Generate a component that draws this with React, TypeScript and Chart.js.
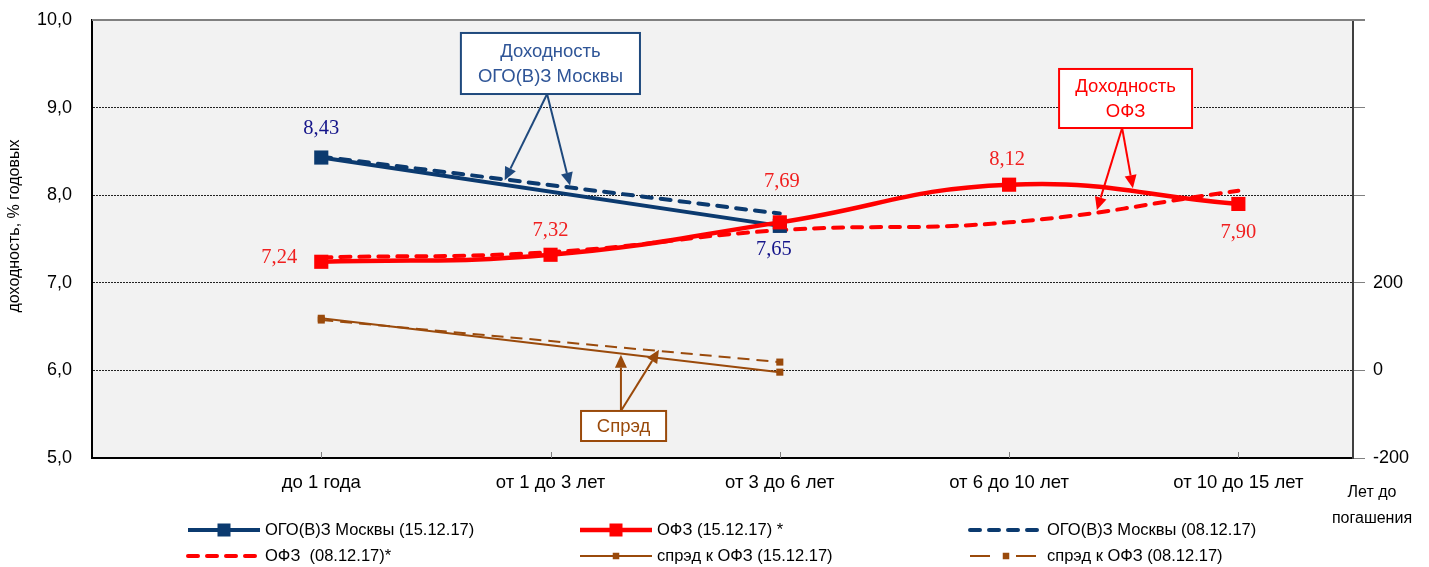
import React, { useEffect, useRef } from "react";
import { Chart, registerables } from "chart.js";
Chart.register(...registerables);

const SANS = "'Liberation Sans', Arial, sans-serif";
const SERIF = "'Liberation Serif', 'Times New Roman', serif";

// ---- data ----
const categories = ["до 1 года", "от 1 до 3 лет", "от 3 до 6 лет", "от 6 до 10 лет", "от 10 до 15 лет"];
const ogoMoscow1512: (number | null)[] = [8.43, null, 7.65, null, null];
const ofz1512: (number | null)[] = [7.24, 7.32, 7.69, 8.12, 7.9];
const ogoMoscow0812: (number | null)[] = [8.44, null, 7.79, null, null];
const ofz0812: (number | null)[] = [7.29, 7.35, 7.6, 7.69, 8.05];
const spread1512: (number | null)[] = [119, null, -4, null, null];
const spread0812: (number | null)[] = [115, null, 19, null, null];
const yieldRange = [5, 10];
const spreadRange = [-200, 800];
const spreadLabelMax = 200;
const seriesLabels = [
  "ОГО(В)З Москвы (15.12.17)",
  "ОФЗ (15.12.17) *",
  "ОГО(В)З Москвы (08.12.17)",
  "ОФЗ  (08.12.17)*",
  "спрэд к ОФЗ (15.12.17)",
  "спрэд к ОФЗ (08.12.17)",
];
const leftAxisTitle = "доходность, % годовых";
const xAxisTitle = ["Лет до", "погашения"];

// ---- styles ----
const NAVY = "#0B3A6F";
const RED = "#FF0000";
const BROWN = "#9A4A0B";
const NAVY_LABEL = "#15158A";
const RED_LABEL = "#F02020";

const seriesValues = [ogoMoscow1512, ofz1512, ogoMoscow0812, ofz0812, spread1512, spread0812];

const toPoints = (arr: (number | null)[]) =>
  arr.map((v, i) => (v == null ? null : { x: i + 1, y: v })).filter((p) => p !== null) as { x: number; y: number }[];

const fmt = (v: number, d: number) => v.toFixed(d).replace(".", ",");

// value labels: dataset index, point index, offsets
const valueLabels = [
  { ds: 0, i: 0, dx: 0, dy: -29, color: NAVY_LABEL },
  { ds: 0, i: 2, dx: -6, dy: 24, color: NAVY_LABEL },
  { ds: 1, i: 0, dx: -42, dy: -4, color: RED_LABEL },
  { ds: 1, i: 1, dx: 0, dy: -24, color: RED_LABEL },
  { ds: 1, i: 2, dx: 2, dy: -41, color: RED_LABEL },
  { ds: 1, i: 3, dx: -2, dy: -25, color: RED_LABEL },
  { ds: 1, i: 4, dx: 0, dy: 29, color: RED_LABEL },
];

// callouts in data units (x: category position, y: yield)
const callouts = [
  {
    lines: ["Доходность", "ОГО(В)З Москвы"],
    box: [1.609, 2.39, 9.852, 9.155],
    apex: [1.985, 9.155],
    targets: [
      [1.8, 8.17],
      [2.085, 8.11],
    ],
    border: "#1F497D",
    text: "#2F5597",
  },
  {
    lines: ["Доходность", "ОФЗ"],
    box: [4.218, 4.798, 9.441, 8.767],
    apex: [4.493, 8.767],
    targets: [
      [4.383, 7.83],
      [4.54, 8.08],
    ],
    border: RED,
    text: RED,
  },
  {
    lines: ["Спрэд"],
    box: [2.133, 2.504, 5.537, 5.194],
    apex: [2.307, 5.537],
    targets: [
      [2.307, 6.18],
      [2.473, 6.235],
    ],
    border: BROWN,
    text: BROWN,
  },
];

const arrow = (ctx: CanvasRenderingContext2D, x1: number, y1: number, x2: number, y2: number, color: string) => {
  const ang = Math.atan2(y2 - y1, x2 - x1);
  const len = 13;
  const w = 6;
  const bx = x2 - len * Math.cos(ang);
  const by = y2 - len * Math.sin(ang);
  ctx.save();
  ctx.strokeStyle = color;
  ctx.fillStyle = color;
  ctx.lineWidth = 2;
  ctx.beginPath();
  ctx.moveTo(x1, y1);
  ctx.lineTo(bx, by);
  ctx.stroke();
  ctx.beginPath();
  ctx.moveTo(x2, y2);
  ctx.lineTo(bx + w * Math.sin(ang), by - w * Math.cos(ang));
  ctx.lineTo(bx - w * Math.sin(ang), by + w * Math.cos(ang));
  ctx.closePath();
  ctx.fill();
  ctx.restore();
};

const decorPlugin = {
  id: "decor",
  beforeDraw(chart: any) {
    const { ctx, chartArea: a } = chart;
    ctx.save();
    ctx.fillStyle = "#F2F2F2";
    ctx.fillRect(a.left, a.top, a.right - a.left, a.bottom - a.top);
    ctx.restore();
  },
  beforeDatasetsDraw(chart: any) {
    const { ctx, chartArea: a, scales } = chart;
    ctx.save();
    // top border
    ctx.strokeStyle = "#808080";
    ctx.lineWidth = 2;
    ctx.beginPath();
    ctx.moveTo(a.left, a.top);
    ctx.lineTo(a.right + 12, a.top);
    ctx.stroke();
    // x ticks inside
    ctx.strokeStyle = "#808080";
    ctx.lineWidth = 1;
    for (let i = 1; i <= categories.length; i++) {
      const x = Math.round(scales.x.getPixelForValue(i)) + 0.5;
      ctx.beginPath();
      ctx.moveTo(x, a.bottom);
      ctx.lineTo(x, a.bottom - 6);
      ctx.stroke();
    }
    ctx.restore();
  },
  afterDatasetsDraw(chart: any) {
    const { ctx, scales } = chart;
    const xs = scales.x;
    const ys = scales.y;
    // callouts
    callouts.forEach((c) => {
      const x1 = xs.getPixelForValue(c.box[0]);
      const x2 = xs.getPixelForValue(c.box[1]);
      const y1 = ys.getPixelForValue(c.box[2]);
      const y2 = ys.getPixelForValue(c.box[3]);
      const ax = xs.getPixelForValue(c.apex[0]);
      const ay = ys.getPixelForValue(c.apex[1]);
      c.targets.forEach((t) => arrow(ctx, ax, ay, xs.getPixelForValue(t[0]), ys.getPixelForValue(t[1]), c.border));
      ctx.save();
      ctx.fillStyle = "#FFFFFF";
      ctx.fillRect(x1, y1, x2 - x1, y2 - y1);
      ctx.strokeStyle = c.border;
      ctx.lineWidth = 2;
      ctx.strokeRect(x1, y1, x2 - x1, y2 - y1);
      ctx.fillStyle = c.text;
      ctx.font = `18.5px ${SANS}`;
      ctx.textAlign = "center";
      ctx.textBaseline = "middle";
      const cx = (x1 + x2) / 2;
      const cy = (y1 + y2) / 2;
      const lh = 25;
      c.lines.forEach((ln, k) => {
        ctx.fillText(ln, cx, cy + (k - (c.lines.length - 1) / 2) * lh + 1);
      });
      ctx.restore();
    });
    // value labels
    ctx.save();
    ctx.font = `20.5px ${SERIF}`;
    ctx.textAlign = "center";
    ctx.textBaseline = "middle";
    valueLabels.forEach((l) => {
      const v = seriesValues[l.ds][l.i] as number;
      const px = xs.getPixelForValue(l.i + 1) + l.dx;
      const py = ys.getPixelForValue(v) + l.dy;
      ctx.fillStyle = l.color;
      ctx.fillText(fmt(v, 2), px, py);
    });
    ctx.restore();
  },
  afterDraw(chart: any) {
    const { ctx, chartArea: a } = chart;
    // left axis title
    ctx.save();
    ctx.font = `16px ${SANS}`;
    ctx.fillStyle = "#000";
    ctx.textAlign = "center";
    ctx.textBaseline = "middle";
    ctx.translate(a.left - 77, a.top + 206);
    ctx.rotate(-Math.PI / 2);
    ctx.fillText(leftAxisTitle, 0, 0);
    ctx.restore();
    // x axis title
    ctx.save();
    ctx.font = `16px ${SANS}`;
    ctx.fillStyle = "#000";
    ctx.textAlign = "center";
    ctx.textBaseline = "middle";
    ctx.fillText(xAxisTitle[0], a.right + 19, a.bottom + 35);
    ctx.fillText(xAxisTitle[1], a.right + 19, a.bottom + 61);
    ctx.restore();
    // legend
    const cols = [188, 580, 970];
    const rows = [a.bottom + 72, a.bottom + 98];
    const sample = 72;
    chart.data.datasets.forEach((ds: any, k: number) => {
      const cx = cols[k % 3];
      const cy = rows[Math.floor(k / 3)];
      ctx.save();
      ctx.strokeStyle = ds.borderColor;
      ctx.lineWidth = ds.borderWidth;
      ctx.lineCap = ds.borderCapStyle || "butt";
      ctx.setLineDash(ds.legendDash || ds.borderDash || []);
      ctx.beginPath();
      ctx.moveTo(cx, cy);
      ctx.lineTo(cx + sample, cy);
      ctx.stroke();
      ctx.setLineDash([]);
      if (ds.pointRadius > 0) {
        const s = ds.pointRadius * 1.3;
        ctx.fillStyle = ds.borderColor;
        ctx.fillRect(cx + sample / 2 - s / 2, cy - s / 2, s, s);
      }
      ctx.fillStyle = "#000";
      ctx.font = `16.5px ${SANS}`;
      ctx.textAlign = "left";
      ctx.textBaseline = "middle";
      ctx.fillText(ds.label, cx + sample + 5, cy);
      ctx.restore();
    });
  },
};

const noVerticalPadding = (s: any, w: number) => {
  s.width = w;
  s.paddingTop = 0;
  s.paddingBottom = 0;
};

export default function App() {
  const ref = useRef<HTMLCanvasElement | null>(null);
  useEffect(() => {
    if (!ref.current) return;
    const chart = new Chart(ref.current, {
      type: "line",
      data: {
        datasets: [
          {
            label: seriesLabels[0],
            data: toPoints(ogoMoscow1512),
            borderColor: NAVY,
            backgroundColor: NAVY,
            borderWidth: 4,
            pointStyle: "rect",
            pointRadius: 10,
            pointHoverRadius: 10,
            pointBorderWidth: 0,
            tension: 0,
            yAxisID: "y",
            order: 1,
          },
          {
            label: seriesLabels[1],
            data: toPoints(ofz1512),
            borderColor: RED,
            backgroundColor: RED,
            borderWidth: 4.5,
            pointStyle: "rect",
            pointRadius: 10,
            pointHoverRadius: 10,
            pointBorderWidth: 0,
            tension: 0.45,
            yAxisID: "y",
            order: 0,
          },
          {
            label: seriesLabels[2],
            data: toPoints(ogoMoscow0812),
            borderColor: NAVY,
            backgroundColor: NAVY,
            borderWidth: 4,
            borderDash: [10, 9],
            borderCapStyle: "round",
            pointRadius: 0,
            tension: 0,
            yAxisID: "y",
            order: 2,
          },
          {
            label: seriesLabels[3],
            data: toPoints(ofz0812),
            borderColor: RED,
            backgroundColor: RED,
            borderWidth: 4,
            borderDash: [10, 9],
            borderCapStyle: "round",
            pointRadius: 0,
            tension: 0.45,
            yAxisID: "y",
            order: 3,
          },
          {
            label: seriesLabels[4],
            data: toPoints(spread1512),
            borderColor: BROWN,
            backgroundColor: BROWN,
            borderWidth: 2,
            pointStyle: "rect",
            pointRadius: 5,
            pointHoverRadius: 5,
            pointBorderWidth: 0,
            tension: 0,
            yAxisID: "y2",
            order: 4,
          },
          {
            label: seriesLabels[5],
            data: toPoints(spread0812),
            borderColor: BROWN,
            backgroundColor: BROWN,
            borderWidth: 2,
            borderDash: [12, 7],
            legendDash: [20, 26],
            pointStyle: "rect",
            pointRadius: 5,
            pointHoverRadius: 5,
            pointBorderWidth: 0,
            tension: 0,
            yAxisID: "y2",
            order: 5,
          } as any,
        ],
      },
      options: {
        animation: false,
        responsive: true,
        maintainAspectRatio: false,
        devicePixelRatio: 1,
        layout: { padding: { top: 20, left: 0, right: 0, bottom: 0 } },
        plugins: { legend: { display: false }, tooltip: { enabled: false } },
        events: [],
        scales: {
          x: {
            type: "linear",
            min: 0,
            max: 5.5,
            afterBuildTicks: (s: any) => {
              s.ticks = categories.map((_, i) => ({ value: i + 1 }));
            },
            afterFit: (s: any) => {
              s.height = 109;
              s.paddingLeft = 0;
              s.paddingRight = 0;
            },
            ticks: {
              callback: (v: any) => categories[Number(v) - 1] ?? "",
              font: { size: 18.5, family: SANS },
              color: "#000",
              padding: 14,
              maxRotation: 0,
              autoSkip: false,
            },
            grid: { display: false, drawTicks: false },
            border: { display: true, color: "#000", width: 2 },
          },
          y: {
            position: "left",
            min: yieldRange[0],
            max: yieldRange[1],
            afterFit: (s: any) => noVerticalPadding(s, 92),
            ticks: {
              stepSize: 1,
              callback: (v: any) => fmt(Number(v), 1),
              font: { size: 18, family: SANS },
              color: "#000",
              padding: 20,
            },
            grid: {
              color: (c: any) =>
                c.tick && c.tick.value > yieldRange[0] && c.tick.value < yieldRange[1] ? "#222" : "rgba(0,0,0,0)",
              lineWidth: 1,
              drawTicks: false,
            },
            border: { color: "#000", width: 2, dash: [2, 1] },
          },
          y2: {
            position: "right",
            min: spreadRange[0],
            max: spreadRange[1],
            afterFit: (s: any) => noVerticalPadding(s, 76),
            ticks: {
              stepSize: 200,
              callback: (v: any) => (Number(v) <= spreadLabelMax ? String(v) : ""),
              font: { size: 18, family: SANS },
              color: "#000",
              padding: 8,
            },
            grid: { drawOnChartArea: false, drawTicks: true, tickLength: 12, color: "#808080", lineWidth: 1 },
            border: { color: "#404040", width: 2 },
          },
        },
      } as any,
      plugins: [decorPlugin],
    });
    return () => chart.destroy();
  }, []);
  return (
    <div style={{ position: "fixed", left: 0, top: 0, width: 1429, height: 567, background: "#fff" }}>
      <canvas ref={ref} />
    </div>
  );
}
